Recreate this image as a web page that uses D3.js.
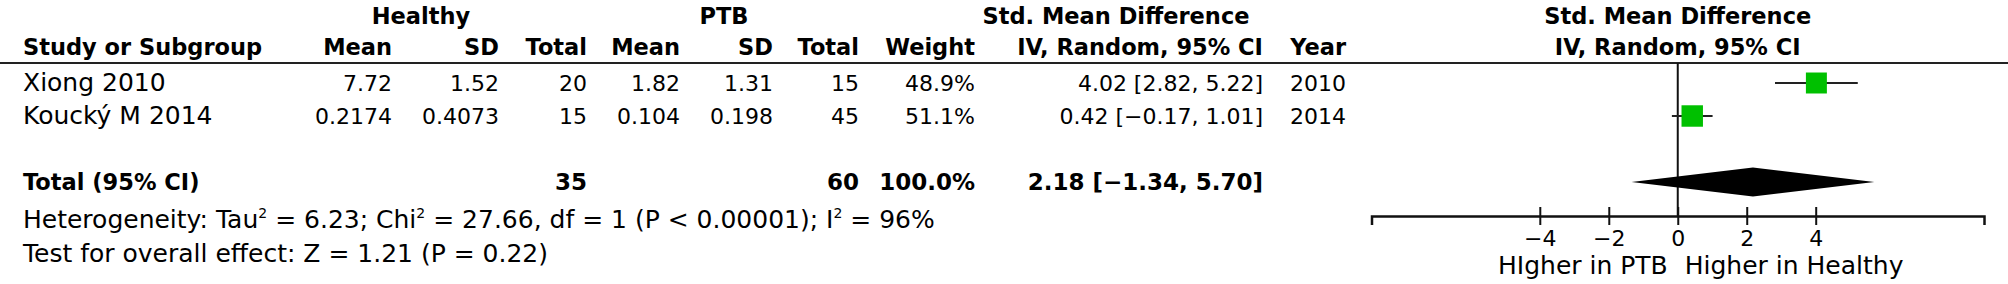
<!DOCTYPE html>
<html><head><meta charset="utf-8">
<script src="https://cdn.jsdelivr.net/npm/d3@7"></script>
<style>
html,body{margin:0;padding:0;background:#fff;}
svg{display:block;}
text{font-family:"DejaVu Sans",sans-serif;fill:#000;}
</style></head>
<body>
<svg id="c" width="2008" height="284"></svg>
<script>
// ---- data ----
const studies = ["Xiong 2010", "Koucký M 2014"];
const healthyMean = ["7.72", "0.2174"];
const healthySD = ["1.52", "0.4073"];
const healthyTotal = [20, 15];
const ptbMean = ["1.82", "0.104"];
const ptbSD = ["1.31", "0.198"];
const ptbTotal = [15, 45];
const weights = [48.9, 51.1];
const smd = [4.02, 0.42];
const ciLow = [2.82, -0.17];
const ciHigh = [5.22, 1.01];
const years = [2010, 2014];
const totalHealthy = 35, totalPtb = 60, totalWeight = 100.0;
const pooled = 2.18, pooledLow = -1.34, pooledHigh = 5.70;
const tickValues = [-4, -2, 0, 2, 4];
const heterogeneity = {tau2: "6.23", chi2: "27.66", df: 1, p: "P < 0.00001", i2: "96%"};
const overall = {z: "1.21", p: "0.22"};
const leftLabel = "HIgher in PTB", rightLabel = "Higher in Healthy";

// ---- layout ----
const svg = d3.select("#c");
const FS_TXT = 25, FS_NUM = 22, FS_BOLD = 22.5, FS_BOLDNUM = 23;
const fmt = v => (v < 0 ? "\u2212" : "") + Math.abs(v).toFixed(2);
const colX = {study: 23, hMean: 392, hSD: 499, hTot: 587, pMean: 680, pSD: 773, pTot: 859, weight: 975, ci: 1263, year: 1346};
const rowMid = [83, 116];
const rowBase = rowMid.map(m => m + 8);
const totalMid = 182, totalBase = 190;
const axisY = 216, headerLineY = 63;

const x = d3.scaleLinear().domain([-8.88, 8.88]).range([1371.5, 1984]);
const sq = d3.scaleSqrt().domain([0, 100]).range([0, 30]);

function txt(s, xx, yy, anchor, bold, size) {
  return svg.append("text").attr("x", xx).attr("y", yy)
    .attr("text-anchor", anchor || "start")
    .attr("font-weight", bold ? "bold" : "normal")
    .attr("font-size", size || FS_NUM).text(s);
}

// headers
const h1 = 24, h2 = 55;
txt("Healthy", 421, h1, "middle", true, FS_BOLD);
txt("PTB", 724, h1, "middle", true, FS_BOLD);
txt("Std. Mean Difference", 1116, h1, "middle", true, FS_BOLD);
txt("Std. Mean Difference", x(0), h1, "middle", true, FS_BOLD);
txt("Study or Subgroup", colX.study, h2, "start", true, FS_BOLD);
txt("Mean", colX.hMean, h2, "end", true, FS_BOLD);
txt("SD", colX.hSD, h2, "end", true, FS_BOLD);
txt("Total", colX.hTot, h2, "end", true, FS_BOLD);
txt("Mean", colX.pMean, h2, "end", true, FS_BOLD);
txt("SD", colX.pSD, h2, "end", true, FS_BOLD);
txt("Total", colX.pTot, h2, "end", true, FS_BOLD);
txt("Weight", colX.weight, h2, "end", true, FS_BOLD);
txt("IV, Random, 95% CI", colX.ci, h2, "end", true, FS_BOLD);
txt("Year", colX.year, h2, "end", true, FS_BOLD);
txt("IV, Random, 95% CI", x(0), h2, "middle", true, FS_BOLD);

svg.append("line").attr("x1", 0).attr("x2", 2008).attr("y1", headerLineY).attr("y2", headerLineY)
  .attr("stroke", "#222").attr("stroke-width", 2);

// study rows
studies.forEach((s, i) => {
  const y = rowBase[i];
  txt(s, colX.study, y, "start", false, FS_TXT);
  txt(healthyMean[i], colX.hMean, y, "end");
  txt(healthySD[i], colX.hSD, y, "end");
  txt(healthyTotal[i], colX.hTot, y, "end");
  txt(ptbMean[i], colX.pMean, y, "end");
  txt(ptbSD[i], colX.pSD, y, "end");
  txt(ptbTotal[i], colX.pTot, y, "end");
  txt(weights[i].toFixed(1) + "%", colX.weight, y, "end");
  txt(`${fmt(smd[i])} [${fmt(ciLow[i])}, ${fmt(ciHigh[i])}]`, colX.ci, y, "end");
  txt(years[i], colX.year, y, "end");
});

// total row
txt("Total (95% CI)", colX.study, totalBase, "start", true, FS_BOLD);
txt(totalHealthy, colX.hTot, totalBase, "end", true, FS_BOLDNUM);
txt(totalPtb, colX.pTot, totalBase, "end", true, FS_BOLDNUM);
txt(totalWeight.toFixed(1) + "%", colX.weight, totalBase, "end", true, FS_BOLDNUM);
txt(`${fmt(pooled)} [${fmt(pooledLow)}, ${fmt(pooledHigh)}]`, colX.ci, totalBase, "end", true, FS_BOLDNUM);

// heterogeneity text
const h = txt("", colX.study, 228, "start", false, FS_TXT);
h.append("tspan").text("Heterogeneity: Tau");
h.append("tspan").attr("font-size", 14).attr("dy", -10).text("2");
h.append("tspan").attr("dy", 10).text(` = ${heterogeneity.tau2}; Chi`);
h.append("tspan").attr("font-size", 14).attr("dy", -10).text("2");
h.append("tspan").attr("dy", 10).text(` = ${heterogeneity.chi2}, df = ${heterogeneity.df} (${heterogeneity.p}); I`);
h.append("tspan").attr("font-size", 14).attr("dy", -10).text("2");
h.append("tspan").attr("dy", 10).text(` = ${heterogeneity.i2}`);
txt(`Test for overall effect: Z = ${overall.z} (P = ${overall.p})`, colX.study, 262, "start", false, FS_TXT);

// forest plot
const g = svg.append("g");
g.append("line").attr("x1", x(0)).attr("x2", x(0)).attr("y1", headerLineY).attr("y2", axisY)
  .attr("stroke", "#111").attr("stroke-width", 2);

studies.forEach((s, i) => {
  g.append("line").attr("x1", x(ciLow[i])).attr("x2", x(ciHigh[i]))
    .attr("y1", rowMid[i]).attr("y2", rowMid[i]).attr("stroke", "#222").attr("stroke-width", 2);
  const w = sq(weights[i]);
  g.append("rect").attr("x", x(smd[i]) - w / 2).attr("y", rowMid[i] - w / 2)
    .attr("width", w).attr("height", w).attr("fill", "#00c000");
});

const dh = 14.5;
g.append("path").attr("d", d3.line()([
  [x(pooledLow), totalMid], [x(pooled), totalMid - dh], [x(pooledHigh), totalMid], [x(pooled), totalMid + dh]
]) + "Z").attr("fill", "#000");

// axis
const ax = svg.append("g").attr("transform", `translate(0,${axisY})`)
  .call(d3.axisBottom(x).tickValues(tickValues).tickSizeOuter(0).tickSize(9)
    .tickFormat(d => (d < 0 ? "\u2212" : "") + Math.abs(d)));
ax.select(".domain").attr("stroke", "#111").attr("stroke-width", 2.5);
ax.selectAll(".tick line").attr("y1", -9).attr("y2", 9).attr("stroke", "#111").attr("stroke-width", 2);
ax.selectAll(".tick text").attr("y", 30).attr("dy", 0).attr("font-size", FS_NUM)
  .attr("font-family", "DejaVu Sans").attr("fill", "#000");

txt(leftLabel, x(0) - 10, 274, "end", false, FS_TXT);
txt(rightLabel, x(0) + 7, 274, "start", false, FS_TXT);
</script>
</body></html>
